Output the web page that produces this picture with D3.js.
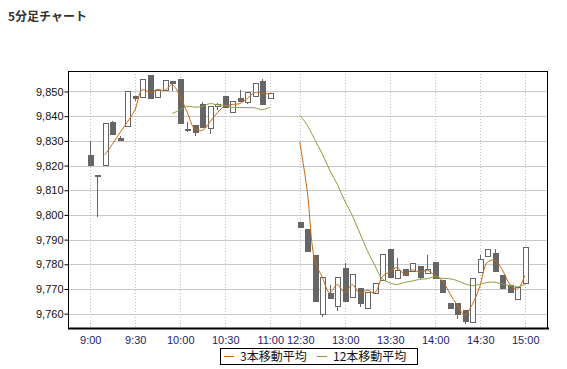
<!DOCTYPE html>
<html>
<head>
<meta charset="utf-8">
<script src="https://cdn.jsdelivr.net/npm/d3@7"></script>
<style>
  body { margin: 0; background: #fff; }
  text { font-family: "Liberation Sans", Arial, sans-serif; }
  .jp { font-family: "Noto Sans CJK JP", sans-serif; }
</style>
</head>
<body>
<svg id="chart" width="567" height="369"></svg>
<script>
// 5-minute candles (morning 9:00-11:00, afternoon 12:30-15:00)
const times = [
  "9:00","9:05","9:10","9:15","9:20","9:25","9:30","9:35","9:40","9:45","9:50","9:55",
  "10:00","10:05","10:10","10:15","10:20","10:25","10:30","10:35","10:40","10:45","10:50","10:55","11:00",
  "12:30","12:35","12:40","12:45","12:50","12:55","13:00","13:05","13:10","13:15","13:20","13:25",
  "13:30","13:35","13:40","13:45","13:50","13:55","14:00","14:05","14:10","14:15","14:20","14:25",
  "14:30","14:35","14:40","14:45","14:50","14:55","15:00"
];
const opens = [
  9824, 9816, 9820, 9837.5, 9831, 9836, 9848, 9847.7, 9856.3, 9847.7, 9850.6, 9854,
  9854.7, 9834.7, 9836.2, 9844.8, 9835.1, 9844.1, 9847.9, 9841.4, 9847.2, 9845.5, 9847.9, 9854, 9847,
  9797, 9793.9, 9783.4, 9759.5, 9768.3, 9762.9, 9778.4, 9766.7, 9770.3, 9762, 9768, 9773.3,
  9785.8, 9774.1, 9778, 9777, 9779.1, 9776.1, 9780.6, 9773.4, 9764, 9764.3, 9761.1, 9756.6,
  9776.8, 9783.1, 9784.2, 9775.3, 9771.3, 9765.6, 9772.3
];
const highs = [
  9830, 9816, 9837, 9838, 9832, 9850, 9848, 9855, 9856.3, 9850.3, 9854.3, 9854,
  9854.7, 9837.5, 9836.2, 9845.6, 9844, 9845.5, 9847.9, 9845.9, 9850.6, 9849.7, 9853.3, 9855, 9849,
  9797, 9793.9, 9783.4, 9774.5, 9771.7, 9774.8, 9780.4, 9775.7, 9770.3, 9768.7, 9772.3, 9783.8,
  9785.8, 9782.6, 9778, 9780.4, 9779.1, 9783.8, 9780.6, 9773.4, 9764, 9764.3, 9761.1, 9774.4,
  9783.8, 9786.1, 9786.1, 9775.3, 9771.3, 9770.7, 9786.9
];
const lows = [
  9820, 9799, 9820, 9832.7, 9830, 9836, 9846, 9847.7, 9847, 9847.7, 9850.6, 9850,
  9837, 9833.6, 9832, 9835.3, 9832.7, 9842.5, 9843.6, 9841.4, 9845.9, 9845, 9847.9, 9844.8, 9847,
  9795, 9785.1, 9764.9, 9758.8, 9766, 9760.9, 9764.9, 9766.7, 9762.9, 9762, 9768, 9773.3,
  9774.8, 9774.1, 9775.4, 9777, 9774, 9776.1, 9774.1, 9768.5, 9762, 9757.8, 9755.7, 9756.6,
  9776.8, 9783.1, 9777.1, 9770.2, 9768.7, 9765.6, 9772.3
];
const closes = [
  9820, 9816, 9837, 9832.7, 9830, 9850, 9847, 9855, 9847, 9850.3, 9854.3, 9853.5,
  9837, 9834, 9833.4, 9835.3, 9844, 9844.8, 9843.6, 9845.9, 9845.9, 9849.7, 9853.3, 9844.8, 9849,
  9795, 9785.1, 9764.9, 9774.5, 9766, 9774.8, 9764.9, 9775.7, 9764.3, 9768.7, 9772.3, 9783.8,
  9774.8, 9777.4, 9775.4, 9780.4, 9774.6, 9777.7, 9774.1, 9768.5, 9762, 9759.8, 9756.8, 9774.4,
  9781.8, 9786.1, 9777.1, 9770.2, 9768.7, 9770.7, 9786.9
];
const yTicks = [9760, 9770, 9780, 9790, 9800, 9810, 9820, 9830, 9840, 9850];
const xTickLabels = ["9:00","9:30","10:00","10:30","11:00","12:30","13:00","13:30","14:00","14:30","15:00"];
const maSpecs = [
  { n: 3,  label: "3本移動平均",  colour: "#c8660f" },
  { n: 12, label: "12本移動平均", colour: "#86a03c" }
];

const svg = d3.select('#chart');
const plot = { left: 68, top: 71, right: 548, bottom: 328 };

const toMin = t => { const [h, m] = t.split(':').map(Number); return h * 60 + m; };
const fmtMin = m => `${Math.floor(m / 60)}:${String(m % 60).padStart(2, '0')}`;

// one slot per 5 minutes, lunch break squeezed into 4 slots
const slotW = 7.5;
const x0 = 89.75; // 9:00
const x = d3.scaleLinear()
  .domain([toMin("9:00"), toMin("11:00"), toMin("12:30"), toMin("15:00")])
  .range([x0, x0 + 24 * slotW, x0 + 28 * slotW, x0 + 58 * slotW]);

const y = d3.scaleLinear()
  .domain([9754.2, 9858.3])
  .range([plot.bottom, plot.top]);

const candles = times.map((t, i) => ({
  t, min: toMin(t), session: toMin(t) <= toMin("11:00") ? 0 : 1,
  o: opens[i], h: highs[i], l: lows[i], c: closes[i]
}));

// title
svg.append('text')
  .attr('class', 'jp')
  .attr('x', 8).attr('y', 21)
  .attr('font-size', 12).attr('font-weight', 'bold')
  .attr('fill', '#333')
  .text('5分足チャート');

// horizontal grid
svg.append('g').selectAll('line').data(yTicks).join('line')
  .attr('x1', plot.left).attr('x2', plot.right)
  .attr('y1', d => Math.round(y(d)) + 0.5).attr('y2', d => Math.round(y(d)) + 0.5)
  .attr('stroke', '#c8c8c8');

// vertical dotted grid
svg.append('g').selectAll('line').data(xTickLabels).join('line')
  .attr('x1', d => Math.round(x(toMin(d))) + 0.5).attr('x2', d => Math.round(x(toMin(d))) + 0.5)
  .attr('y1', plot.top).attr('y2', plot.bottom)
  .attr('stroke', '#bdbdbd')
  .attr('stroke-dasharray', '1,2');

// candles
const cg = svg.append('g').attr('shape-rendering', 'crispEdges');
const cx = d => Math.round(x(d.min));
cg.selectAll('.wick').data(candles).join('line')
  .attr('class', 'wick')
  .attr('x1', d => cx(d) + 0.5).attr('x2', d => cx(d) + 0.5)
  .attr('y1', d => y(d.h)).attr('y2', d => y(d.l))
  .attr('stroke', '#666');
cg.selectAll('.body').data(candles).join('rect')
  .attr('class', 'body')
  .attr('x', d => cx(d) - 2)
  .attr('width', 5)
  .attr('y', d => y(Math.max(d.o, d.c)))
  .attr('height', d => Math.max(1.5, Math.abs(y(d.o) - y(d.c))))
  .attr('fill', d => d.c >= d.o ? '#fff' : '#666')
  .attr('stroke', '#666');

// moving averages, computed from the closes and drawn per session
maSpecs.forEach(spec => {
  const pts = candles.map((d, i) => i < spec.n - 1 ? null :
    { min: d.min, session: d.session, v: d3.mean(closes.slice(i - spec.n + 1, i + 1)) })
    .filter(Boolean);
  const line = d3.line().x(d => x(d.min)).y(d => y(d.v)).curve(d3.curveCatmullRom);
  [0, 1].forEach(s => {
    svg.append('path')
      .datum(pts.filter(p => p.session === s))
      .attr('d', line)
      .attr('fill', 'none')
      .attr('stroke', spec.colour)
      .attr('stroke-width', 1);
  });
});

// frame
svg.append('rect')
  .attr('x', plot.left + 0.5).attr('y', plot.top + 0.5)
  .attr('width', plot.right - plot.left - 1).attr('height', plot.bottom - plot.top)
  .attr('fill', 'none').attr('stroke', '#000');
svg.append('line')
  .attr('x1', plot.left).attr('x2', plot.right + 1)
  .attr('y1', plot.bottom + 0.5).attr('y2', plot.bottom + 0.5)
  .attr('stroke', '#000').attr('stroke-width', 2);

// y axis
const yAxis = svg.append('g')
  .attr('transform', `translate(${plot.left + 0.5},0)`)
  .call(d3.axisLeft(y).tickValues(yTicks).tickSize(4).tickPadding(1).tickFormat(d3.format(',')));
yAxis.select('.domain').remove();
yAxis.selectAll('text').attr('font-size', 11).attr('fill', '#111').attr('font-family', '"Liberation Sans", Arial, sans-serif');

// x axis labels
const xAxis = svg.append('g')
  .attr('transform', `translate(0.5,${plot.bottom + 2})`)
  .call(d3.axisBottom(x).tickValues(xTickLabels.map(toMin)).tickSize(0).tickPadding(6).tickFormat(fmtMin));
xAxis.select('.domain').remove();
xAxis.selectAll('text').attr('font-size', 11).attr('fill', '#1c1c6b').attr('font-family', '"Liberation Sans", Arial, sans-serif');

// legend
const legend = svg.append('g').attr('transform', 'translate(220,348)');
legend.append('rect')
  .attr('x', 0.5).attr('y', 0.5).attr('width', 197).attr('height', 16)
  .attr('fill', '#fff').attr('stroke', '#000');
const items = legend.selectAll('.item').data(maSpecs).join('g')
  .attr('class', 'item')
  .attr('transform', (d, i) => `translate(${i === 0 ? 4 : 97},0)`);
items.append('line')
  .attr('x1', 0).attr('x2', 10).attr('y1', 8.5).attr('y2', 8.5)
  .attr('stroke', d => d.colour);
items.append('text')
  .attr('class', 'jp')
  .attr('x', 16).attr('y', 13)
  .attr('font-size', 12).attr('fill', '#111')
  .text(d => d.label);
</script>
</body>
</html>
